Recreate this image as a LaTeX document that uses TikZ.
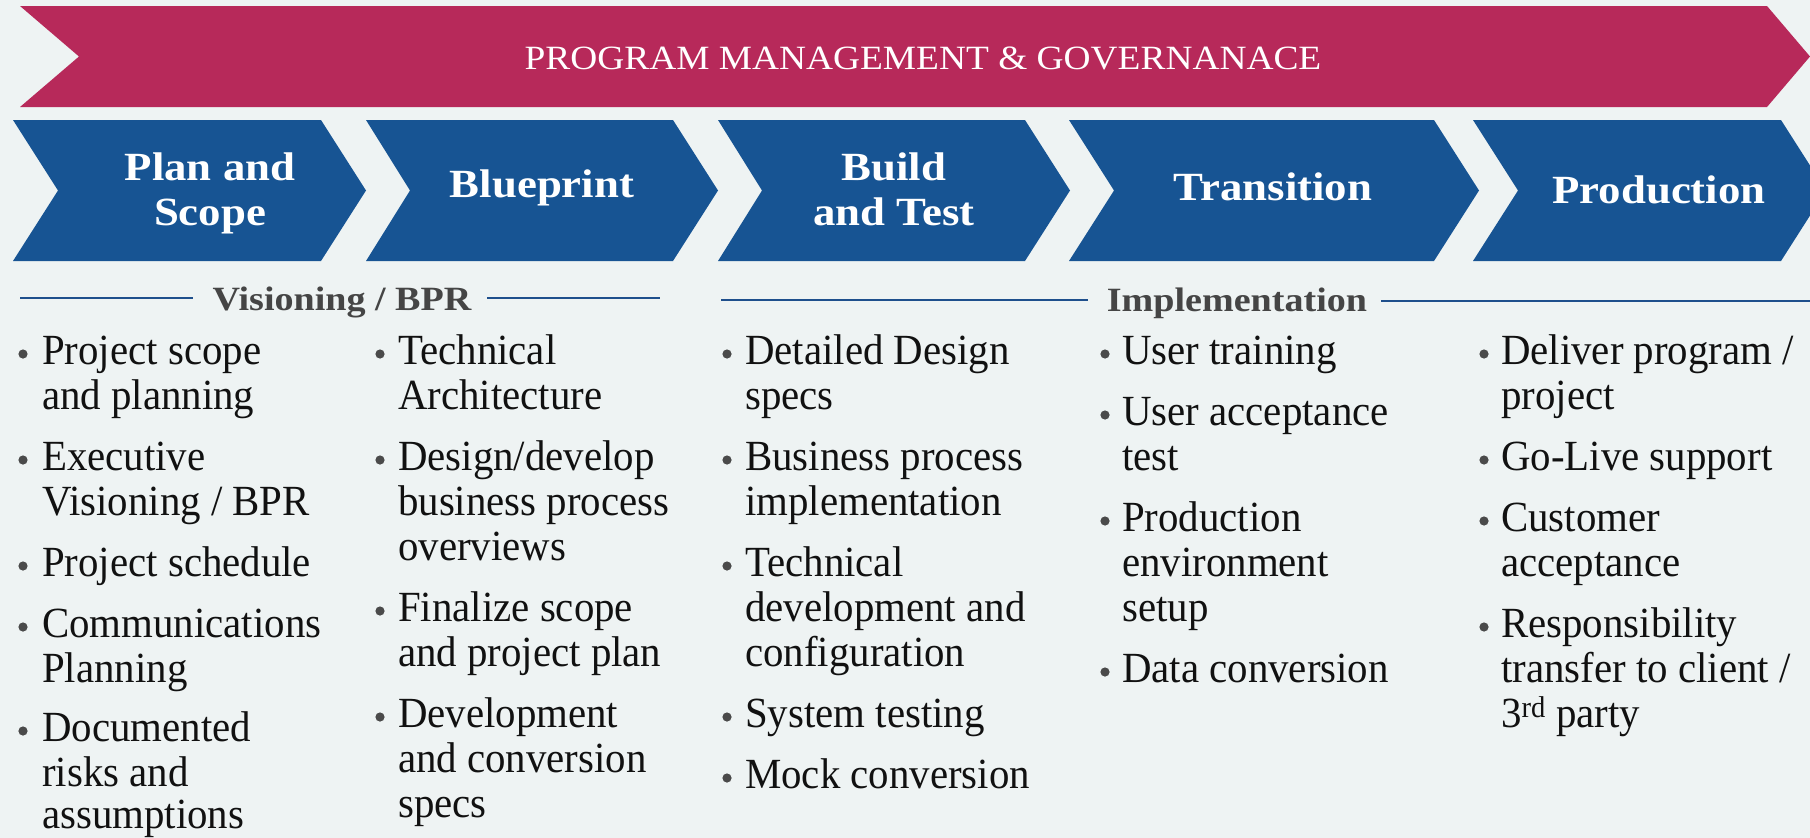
\documentclass[tikz,border=0pt]{standalone}
\usepackage{fontspec}
\setmainfont{Liberation Serif}
\newfontfamily\bodyfont[FakeStretch=0.95]{Liberation Serif}
\newfontfamily\phasefont[FakeStretch=1.12]{Liberation Serif}
\newfontfamily\titlefont[FakeStretch=1.1]{Liberation Serif}
\definecolor{bgc}{HTML}{EEF3F3}
\definecolor{bannerc}{HTML}{B7295A}
\definecolor{phaseblue}{HTML}{175493}
\definecolor{rulec}{HTML}{1E4F8C}
\definecolor{headgray}{HTML}{454545}
\definecolor{textc}{HTML}{111111}
\definecolor{bulc}{HTML}{4A4A4A}
\begin{document}
\begin{tikzpicture}[x=1pt,y=-1pt,
  chev/.style={fill=phaseblue,draw=none},
  bannerbox/.style={fill=bannerc,draw=none},
  phase/.style={text=white,font=\phasefont\bfseries\fontsize{40}{45}\selectfont,inner sep=0pt,anchor=base},
  titletext/.style={text=white,font=\titlefont\fontsize{34}{40}\selectfont,inner sep=0pt,anchor=base},
  head/.style={text=headgray,font=\phasefont\bfseries\fontsize{34}{40}\selectfont,inner sep=0pt,anchor=base},
  item/.style={text=textc,font=\bodyfont\fontsize{43}{45}\selectfont,inner sep=0pt,anchor=base west},
  bul/.style={fill=bulc},
  rulel/.style={draw=rulec,line width=2.5pt}]
\useasboundingbox (0,0) rectangle (1810,838);
\clip (0,0) rectangle (1810,838);
\fill[bgc] (0,0) rectangle (1810,838);
% banner
\fill[bannerbox] (20,6) -- (1767,6) -- (1810,56.5) -- (1767,107) -- (20,107) -- (79,56.5) -- cycle;
\node[titletext] (title) at (923,69) {PROGRAM MANAGEMENT \& GOVERNANACE};
% chevrons
\fill[chev] (13,120) -- (321,120) -- (366,190.5) -- (321,261) -- (13,261) -- (58,190.5) -- cycle;
\fill[chev] (366,120) -- (673,120) -- (718,190.5) -- (673,261) -- (366,261) -- (410,190.5) -- cycle;
\fill[chev] (718,120) -- (1025,120) -- (1070,190.5) -- (1025,261) -- (718,261) -- (762,190.5) -- cycle;
\fill[chev] (1069,120) -- (1434,120) -- (1479,190.5) -- (1434,261) -- (1069,261) -- (1114,190.5) -- cycle;
\fill[chev] (1473,120) -- (1781,120) -- (1826,190.5) -- (1781,261) -- (1473,261) -- (1518,190.5) -- cycle;
\node[phase] (p1) at (210,180) {\begin{tabular}[t]{@{}c@{}}Plan and\\Scope\end{tabular}};
\node[phase] (p2) at (542,197) {Blueprint};
\node[phase] (p3) at (894,180) {\begin{tabular}[t]{@{}c@{}}Build\\and Test\end{tabular}};
\node[phase] (p4) at (1273,200) {Transition};
\node[phase] (p5) at (1659,203) {Production};
% section headings
\node[head] (h1) at (342,310) {Visioning / BPR};
\node[head] (h2) at (1237,311) {Implementation};
\draw[rulel] (20,298) -- (193,298);
\draw[rulel] (487,298) -- (660,298);
\draw[rulel] (721,300) -- (1088,300);
\draw[rulel] (1381,301) -- (1810,301);
\begin{scope}[shift={(0,3)}]
% column 1
\fill[bul] (23,351) circle (4.6pt);
\node[item] (a1) at (42,361) {\begin{tabular}[t]{@{}l@{}}Project scope\\and planning\end{tabular}};
\fill[bul] (23,457) circle (4.6pt);
\node[item] (a2) at (42,467) {\begin{tabular}[t]{@{}l@{}}Executive\\Visioning / BPR\end{tabular}};
\fill[bul] (23,563) circle (4.6pt);
\node[item] (a3) at (42,573) {Project schedule};
\fill[bul] (23,624) circle (4.6pt);
\node[item] (a4) at (42,634) {\begin{tabular}[t]{@{}l@{}}Communications\\Planning\end{tabular}};
\fill[bul] (23,728) circle (4.6pt);
\node[item] (a5) at (42,738) {\begin{tabular}[t]{@{}l@{}}Documented\\risks and\\[-3pt]assumptions\end{tabular}};
% column 2
\fill[bul] (380,351) circle (4.6pt);
\node[item] (b1) at (398,361) {\begin{tabular}[t]{@{}l@{}}Technical\\Architecture\end{tabular}};
\fill[bul] (380,457) circle (4.6pt);
\node[item] (b2) at (398,467) {\begin{tabular}[t]{@{}l@{}}Design/develop\\business process\\overviews\end{tabular}};
\fill[bul] (380,608) circle (4.6pt);
\node[item] (b3) at (398,618) {\begin{tabular}[t]{@{}l@{}}Finalize scope\\and project plan\end{tabular}};
\fill[bul] (380,714) circle (4.6pt);
\node[item] (b4) at (398,724) {\begin{tabular}[t]{@{}l@{}}Development\\and conversion\\specs\end{tabular}};
% column 3
\fill[bul] (727,351) circle (4.6pt);
\node[item] (c1) at (745,361) {\begin{tabular}[t]{@{}l@{}}Detailed Design\\specs\end{tabular}};
\fill[bul] (727,457) circle (4.6pt);
\node[item] (c2) at (745,467) {\begin{tabular}[t]{@{}l@{}}Business process\\implementation\end{tabular}};
\fill[bul] (727,563) circle (4.6pt);
\node[item] (c3) at (745,573) {\begin{tabular}[t]{@{}l@{}}Technical\\development and\\configuration\end{tabular}};
\fill[bul] (727,714) circle (4.6pt);
\node[item] (c4) at (745,724) {System testing};
\fill[bul] (727,775) circle (4.6pt);
\node[item] (c5) at (745,785) {Mock conversion};
% column 4
\fill[bul] (1105,351) circle (4.6pt);
\node[item] (d1) at (1122,361) {User training};
\fill[bul] (1105,412) circle (4.6pt);
\node[item] (d2) at (1122,422) {\begin{tabular}[t]{@{}l@{}}User acceptance\\test\end{tabular}};
\fill[bul] (1105,518) circle (4.6pt);
\node[item] (d3) at (1122,528) {\begin{tabular}[t]{@{}l@{}}Production\\environment\\setup\end{tabular}};
\fill[bul] (1105,669) circle (4.6pt);
\node[item] (d4) at (1122,679) {Data conversion};
% column 5
\fill[bul] (1484,351) circle (4.6pt);
\node[item] (e1) at (1501,361) {\begin{tabular}[t]{@{}l@{}}Deliver program /\\project\end{tabular}};
\fill[bul] (1484,457) circle (4.6pt);
\node[item] (e2) at (1501,467) {Go-Live support};
\fill[bul] (1484,518) circle (4.6pt);
\node[item] (e3) at (1501,528) {\begin{tabular}[t]{@{}l@{}}Customer\\acceptance\end{tabular}};
\fill[bul] (1484,624) circle (4.6pt);
\node[item] (e4) at (1501,634) {\begin{tabular}[t]{@{}l@{}}Responsibility\\transfer to client /\\3\textsuperscript{rd} party\end{tabular}};
\end{scope}
\end{tikzpicture}
\end{document}
